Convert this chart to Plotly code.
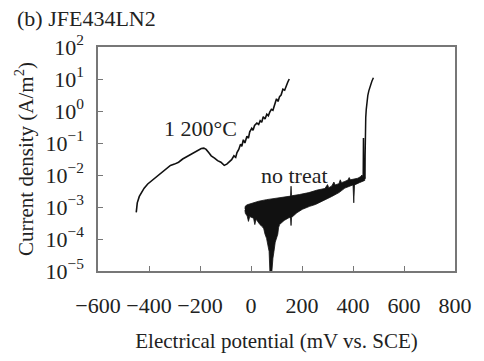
import plotly.graph_objects as go

# ---- data (log10 of current density, A/m^2) ----
x_1200 = [-450, -449, -446, -438, -428, -419, -405, -387, -368, -348, -330, -316, -300, -284,
          -268, -252, -236, -220, -205, -195, -185, -176, -166, -156, -143, -131, -118, -105,
          -95, -86, -76, -67, -60, -55, -48, -41, -36, -30, -24, -16, -10, -5, 3, 8, 14, 23,
          30, 36, 42, 48, 55, 62, 68, 74, 80, 86, 92, 100, 106, 112, 118, 125, 132, 138, 144, 150]
logj_1200 = [-3.17, -3.0, -2.87, -2.67, -2.52, -2.41, -2.28, -2.16, -2.02, -1.90, -1.79, -1.70,
             -1.66, -1.60, -1.50, -1.43, -1.35, -1.27, -1.21, -1.17, -1.16, -1.20, -1.30, -1.40,
             -1.47, -1.55, -1.60, -1.70, -1.66, -1.60, -1.52, -1.40, -1.45, -1.30, -1.20, -1.04,
             -1.10, -0.90, -1.00, -0.79, -0.85, -0.65, -0.54, -0.60, -0.45, -0.38, -0.42, -0.30,
             -0.35, -0.18, -0.25, -0.10, -0.15, -0.03, 0.05, 0.02, 0.15, 0.38, 0.30, 0.45, 0.50,
             0.68, 0.65, 0.80, 0.90, 1.0]

# no treat: noisy band, upper and lower envelopes
x_nt_up = [-24, -22, -15, -5, 10, 30, 61, 100, 120, 150, 155, 157, 159, 190, 227, 260, 290, 300,
           305, 317, 325, 330, 345, 350, 355, 368, 380, 385, 390, 419, 430, 435, 440, 446]
logj_nt_up = [-3.05, -2.97, -2.93, -2.90, -2.86, -2.82, -2.77, -2.72, -2.69, -2.66, -2.66, -2.35,
              -2.65, -2.61, -2.55, -2.47, -2.42, -2.30, -2.40, -2.34, -2.22, -2.31, -2.27, -2.15,
              -2.24, -2.20, -2.16, -2.08, -2.15, -2.10, -2.05, -2.00, -2.06, -2.05]
x_nt_lo = [-24, -22, -15, -10, -5, 10, 15, 20, 35, 45, 50, 55, 61, 66, 71, 74, 82, 86, 90, 95,
           100, 105, 108, 112, 130, 150, 155, 157, 159, 180, 202, 230, 253, 285, 317, 345, 368,
           400, 403, 406, 425, 446]
logj_nt_lo = [-3.10, -3.20, -3.28, -3.45, -3.30, -3.35, -3.55, -3.38, -3.55, -3.62, -3.68, -3.85,
              -3.98, -4.15, -4.39, -5.0, -5.0, -4.6, -4.39, -4.1, -3.98, -3.85, -3.65, -3.55,
              -3.42, -3.33, -3.35, -3.58, -3.33, -3.18, -3.07, -2.98, -2.92, -2.80, -2.67, -2.55,
              -2.41, -2.31, -2.87, -2.31, -2.24, -2.17]
# no treat: breakdown rise
x_nt_rise = [438, 440, 441, 442, 444, 446, 447, 447.5, 448, 450, 452, 454, 458, 462, 468, 474, 480]
logj_nt_rise = [-2.08, -2.10, -0.84, -2.10, -2.08, -2.12, -2.10, -1.40, -0.64, -0.20, 0.05, 0.28,
                0.48, 0.63, 0.80, 0.93, 1.04]

x_ticks = [-600, -400, -200, 0, 200, 400, 600, 800]
x_ticktext = ["\u2212600", "\u2212400", "\u2212200", "0", "200", "400", "600", "800"]
y_exps = [-5, -4, -3, -2, -1, 0, 1, 2]

FONT = "'Liberation Serif', 'Times New Roman', Times, serif"

def to_j(logs):
    return [10 ** v for v in logs]

fig = go.Figure()
# band polygon
poly_x = x_nt_up + x_nt_lo[::-1]
poly_y = to_j(logj_nt_up + logj_nt_lo[::-1])
fig.add_trace(go.Scatter(x=poly_x, y=poly_y, mode="lines", fill="toself",
                         fillcolor="#111111", line=dict(color="#111111", width=0.8),
                         showlegend=False, hoverinfo="skip"))
fig.add_trace(go.Scatter(x=x_nt_rise, y=to_j(logj_nt_rise), mode="lines",
                         line=dict(color="#111111", width=1.5), showlegend=False))
fig.add_trace(go.Scatter(x=x_1200, y=to_j(logj_1200), mode="lines",
                         line=dict(color="#111111", width=1.6), showlegend=False))

fig.update_xaxes(range=[-600, 800], tickvals=x_ticks, ticktext=x_ticktext,
                 ticks="inside", ticklen=5, tickwidth=1.2, tickcolor="#777777",
                 showline=True, linecolor="#777777", linewidth=1.5, mirror=True,
                 showgrid=False, zeroline=False, ticklabelstandoff=14,
                 tickfont=dict(family=FONT, size=22, color="#222222"),
                 title=dict(text="Electrical potential (mV vs. SCE)", standoff=16,
                            font=dict(family=FONT, size=21, color="#222222")))
fig.update_yaxes(type="log", range=[-5, 2], tickvals=[10 ** e for e in y_exps],
                 ticktext=["10<sup>%s</sup>" % (str(e).replace("-", "\u2212")) for e in y_exps],
                 ticks="inside", ticklen=5, tickwidth=1.2, tickcolor="#777777",
                 showline=True, linecolor="#777777", linewidth=1.5, mirror=True,
                 showgrid=False, zeroline=False, ticklabelstandoff=8,
                 tickfont=dict(family=FONT, size=22, color="#222222"),
                 title=dict(text="Current density (A/m<sup>2</sup>)", standoff=6,
                            font=dict(family=FONT, size=21, color="#222222")))

fig.add_annotation(text="(b) JFE434LN2", xref="paper", yref="paper", x=-0.232, y=1.127,
                   xanchor="left", yanchor="middle", showarrow=False,
                   font=dict(family=FONT, size=22, color="#222222"))
fig.add_annotation(text="1 200°C", xref="x", yref="y", x=-197, y=-0.56,
                   xanchor="center", yanchor="middle", showarrow=False,
                   font=dict(family=FONT, size=22, color="#222222"))
fig.add_annotation(text="no treat", xref="x", yref="y", x=171, y=-2.0,
                   xanchor="center", yanchor="middle", showarrow=False,
                   font=dict(family=FONT, size=22, color="#222222"))

fig.update_layout(width=484, height=361, margin=dict(l=98, r=21, t=47, b=84),
                  plot_bgcolor="white", paper_bgcolor="white",
                  font=dict(family=FONT, size=22, color="#222222"))

fig.write_html("out.html")
